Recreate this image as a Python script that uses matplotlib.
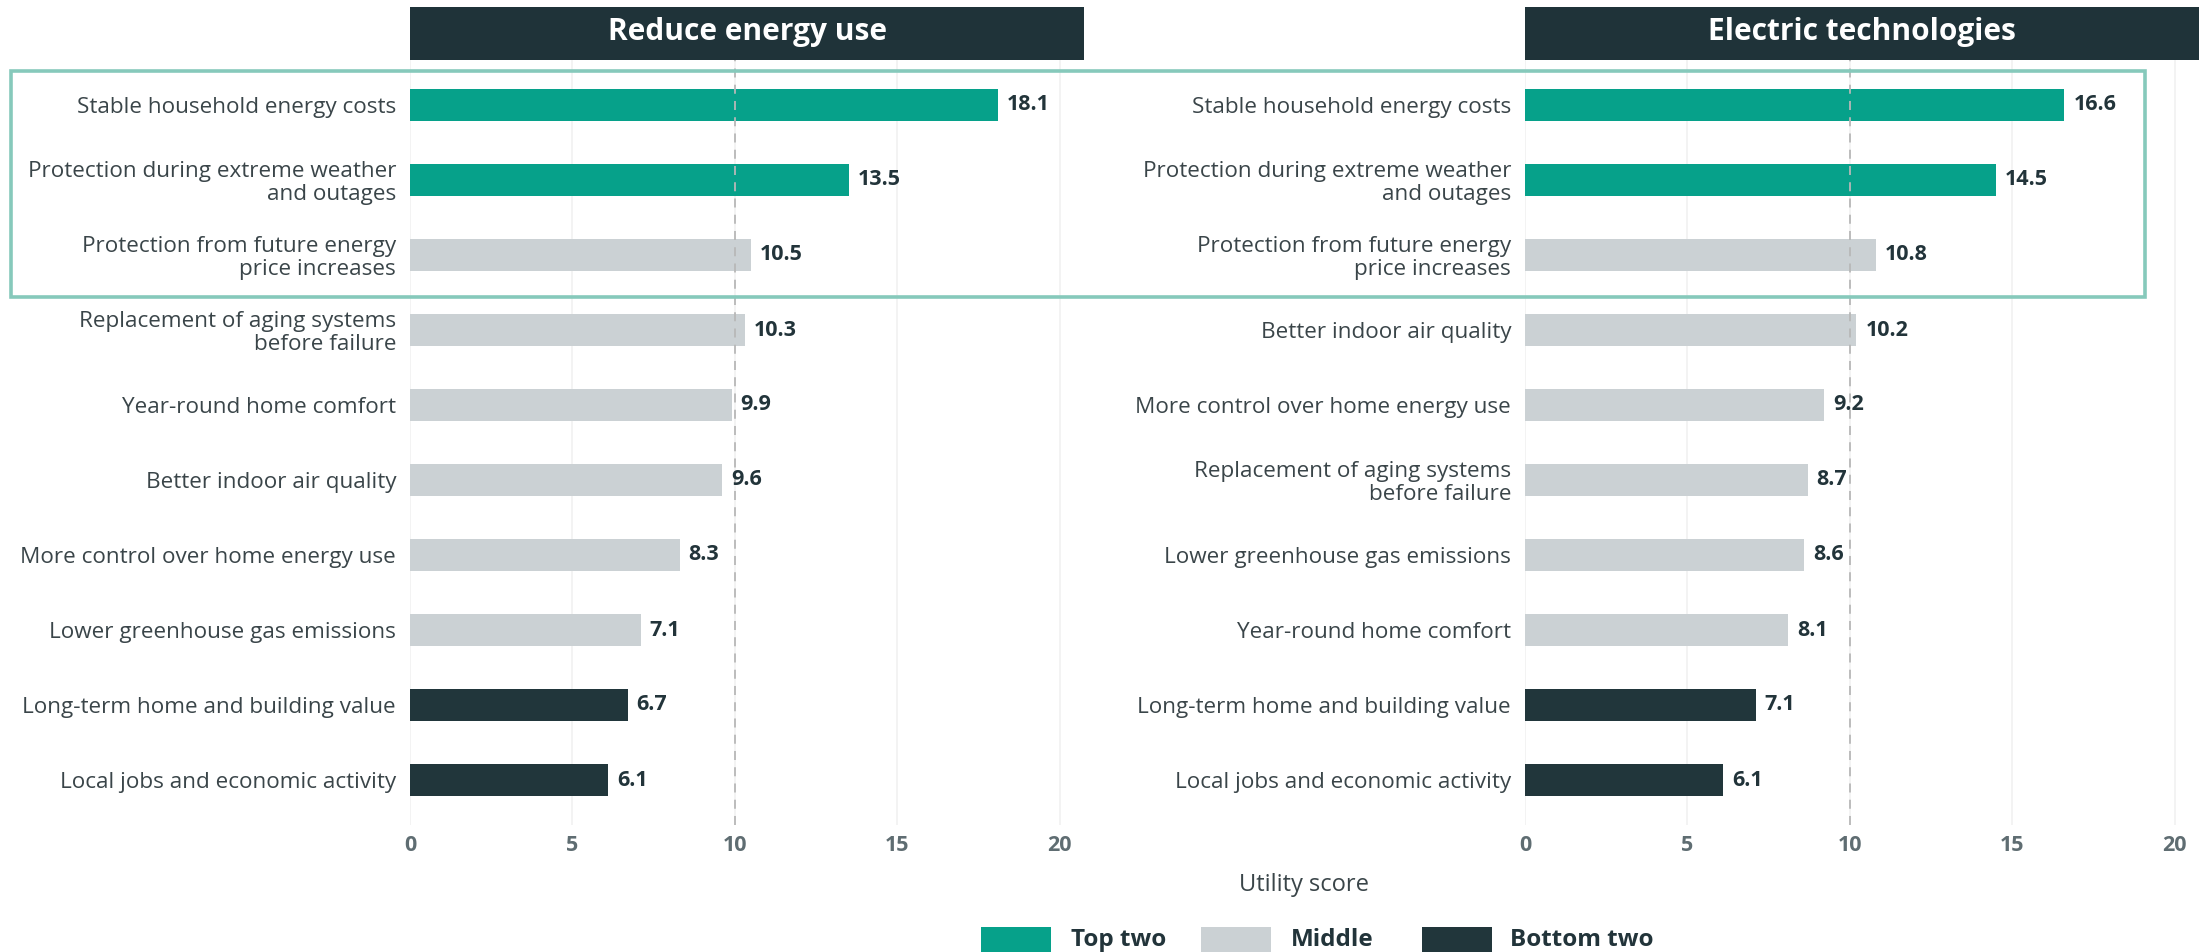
import matplotlib
matplotlib.use("Agg")
import matplotlib.pyplot as plt
from matplotlib.patches import Rectangle

plt.rcParams['font.family'] = ['Open Sans', 'DejaVu Sans']

# ---------------- data ----------------
panel_titles = ["Reduce energy use", "Electric technologies"]

left_labels = [
    "Stable household energy costs",
    "Protection during extreme weather\nand outages",
    "Protection from future energy\nprice increases",
    "Replacement of aging systems\nbefore failure",
    "Year-round home comfort",
    "Better indoor air quality",
    "More control over home energy use",
    "Lower greenhouse gas emissions",
    "Long-term home and building value",
    "Local jobs and economic activity",
]
left_values = [18.1, 13.5, 10.5, 10.3, 9.9, 9.6, 8.3, 7.1, 6.7, 6.1]
left_groups = ["Top two", "Top two", "Middle", "Middle", "Middle", "Middle",
               "Middle", "Middle", "Bottom two", "Bottom two"]

right_labels = [
    "Stable household energy costs",
    "Protection during extreme weather\nand outages",
    "Protection from future energy\nprice increases",
    "Better indoor air quality",
    "More control over home energy use",
    "Replacement of aging systems\nbefore failure",
    "Lower greenhouse gas emissions",
    "Year-round home comfort",
    "Long-term home and building value",
    "Local jobs and economic activity",
]
right_values = [16.6, 14.5, 10.8, 10.2, 9.2, 8.7, 8.6, 8.1, 7.1, 6.1]
right_groups = ["Top two", "Top two", "Middle", "Middle", "Middle", "Middle",
                "Middle", "Middle", "Bottom two", "Bottom two"]

x_ticks = [0, 5, 10, 15, 20]
reference_value = 10
x_label = "Utility score"
legend_order = ["Top two", "Middle", "Bottom two"]

# ---------------- style ----------------
colors = {"Top two": "#06A18A", "Middle": "#CBD1D4", "Bottom two": "#21363B"}
header_color = "#1F3339"
box_color = "#86C9BB"
text_color = "#3A4549"
value_color = "#22343A"
tick_color = "#5F6D72"

W, H = 2203, 952
fig = plt.figure(figsize=(W / 100, H / 100), dpi=100)


def fx(px):
    return px / W


def fy(py):
    return 1 - py / H


ax_top, ax_bot = 60, 825
panels = [(410, 1084), (1525, 2199)]
xmax = 20.75

data = [(left_labels, left_values, left_groups), (right_labels, right_values, right_groups)]

for (x0, x1), title, (labels, values, groups) in zip(panels, panel_titles, data):
    ax = fig.add_axes([fx(x0), fy(ax_bot), fx(x1 - x0), (ax_bot - ax_top) / H])
    ypos = list(range(len(values)))
    ax.barh(ypos, values, height=0.42, color=[colors[g] for g in groups], zorder=3)
    ax.set_xlim(0, xmax)
    ax.set_ylim(len(values) - 0.4, -0.6)
    ax.set_yticks(ypos)
    ax.set_yticklabels(labels, fontsize=16.2, color=text_color, linespacing=1.1)
    ax.set_xticks(x_ticks)
    ax.set_xticklabels([str(t) for t in x_ticks], fontsize=15.5, fontweight='bold', color=tick_color)
    ax.tick_params(axis='both', length=0)
    ax.tick_params(axis='y', pad=10)
    ax.tick_params(axis='x', pad=7)
    for s in ax.spines.values():
        s.set_visible(False)
    ax.grid(axis='x', color='#F1F1F1', linewidth=1.2, zorder=0)
    ax.axvline(reference_value, color='#B8B8B8', linestyle=(0, (5, 4)), linewidth=1.3, zorder=4)
    for y, v in zip(ypos, values):
        ax.text(v + 0.28, y, f"{v:.1f}", va='center', ha='left', fontsize=15.5,
                fontweight='bold', color=value_color, zorder=5)
    # panel header
    fig.add_artist(Rectangle((fx(x0), fy(60)), fx(x1 - x0), (60 - 7) / H,
                             transform=fig.transFigure, facecolor=header_color,
                             edgecolor='none', zorder=2))
    fig.text(fx((x0 + x1) / 2), fy(32), title, ha='center', va='center',
             fontsize=21.5, fontweight='bold', color='white', zorder=3)

# highlight box around top three rows
fig.add_artist(Rectangle((fx(10.5), fy(297)), fx(2145 - 10.5), (297 - 71) / H,
                         transform=fig.transFigure, facecolor='none',
                         edgecolor=box_color, linewidth=2.6, zorder=10))

# x axis label
fig.text(fx(1304), fy(885), x_label, ha='center', va='center', fontsize=17, color=text_color)

# legend
legend_items = [(981, 1071), (1201, 1291), (1422, 1510)]
for name, (sx, tx) in zip(legend_order, legend_items):
    fig.add_artist(Rectangle((fx(sx), fy(965)), fx(70), (965 - 927) / H,
                             transform=fig.transFigure, facecolor=colors[name],
                             edgecolor='none', clip_on=False))
    fig.text(fx(tx), fy(940), name, ha='left', va='center', fontsize=17.5,
             fontweight='bold', color=value_color)

fig.savefig("out.png", dpi=100)
